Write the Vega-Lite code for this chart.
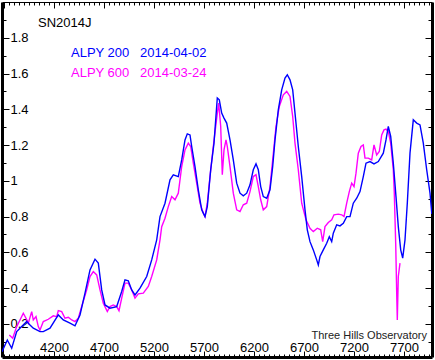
{
  "$schema": "https://vega.github.io/schema/vega-lite/v6.json",
  "width": 430,
  "height": 355,
  "autosize": {"type": "none"},
  "padding": {"left": 2, "top": 2, "right": 3, "bottom": 3},
  "background": "white",
  "config": {
    "view": {"stroke": null},
    "axis": {"grid": false, "title": null, "domainColor": "black", "tickColor": "black", "labelColor": "black", "labelFont": "Liberation Sans", "labelFontSize": 13, "labelFlush": false, "labelOverlap": false, "tickWidth": 1}
  },
  "datasets": {
    "blue": [
      {"wl":3680,"f":0.045},{"wl":3733,"f":0.110},{"wl":3777,"f":0.064},{"wl":3827,"f":0.157},{"wl":3877,"f":0.185},{"wl":3927,"f":0.213},{"wl":3960,"f":0.194},{"wl":3993,"f":0.176},{"wl":4060,"f":0.157},{"wl":4093,"f":0.157},{"wl":4160,"f":0.176},{"wl":4243,"f":0.250},{"wl":4293,"f":0.222},{"wl":4360,"f":0.204},{"wl":4410,"f":0.189},{"wl":4460,"f":0.250},{"wl":4510,"f":0.372},{"wl":4560,"f":0.502},{"wl":4610,"f":0.562},{"wl":4643,"f":0.540},{"wl":4677,"f":0.390},{"wl":4710,"f":0.306},{"wl":4760,"f":0.288},{"wl":4827,"f":0.297},{"wl":4877,"f":0.381},{"wl":4910,"f":0.446},{"wl":4943,"f":0.441},{"wl":4977,"f":0.390},{"wl":5010,"f":0.362},{"wl":5060,"f":0.400},{"wl":5127,"f":0.465},{"wl":5177,"f":0.558},{"wl":5227,"f":0.670},{"wl":5260,"f":0.800},{"wl":5310,"f":0.875},{"wl":5360,"f":1.006},{"wl":5393,"f":1.034},{"wl":5443,"f":1.024},{"wl":5477,"f":1.117},{"wl":5510,"f":1.229},{"wl":5533,"f":1.263},{"wl":5560,"f":1.257},{"wl":5577,"f":1.192},{"wl":5610,"f":1.080},{"wl":5643,"f":0.950},{"wl":5677,"f":0.838},{"wl":5710,"f":0.800},{"wl":5733,"f":0.856},{"wl":5767,"f":1.062},{"wl":5800,"f":1.211},{"wl":5833,"f":1.463},{"wl":5853,"f":1.453},{"wl":5877,"f":1.379},{"wl":5900,"f":1.351},{"wl":5927,"f":1.323},{"wl":5960,"f":1.229},{"wl":5993,"f":1.117},{"wl":6027,"f":0.987},{"wl":6060,"f":0.931},{"wl":6093,"f":0.916},{"wl":6127,"f":0.931},{"wl":6160,"f":0.978},{"wl":6193,"f":1.062},{"wl":6220,"f":1.095},{"wl":6243,"f":1.062},{"wl":6267,"f":0.968},{"wl":6293,"f":0.912},{"wl":6327,"f":0.903},{"wl":6360,"f":0.950},{"wl":6387,"f":1.080},{"wl":6410,"f":1.229},{"wl":6443,"f":1.397},{"wl":6477,"f":1.509},{"wl":6510,"f":1.575},{"wl":6533,"f":1.593},{"wl":6560,"f":1.565},{"wl":6587,"f":1.509},{"wl":6610,"f":1.379},{"wl":6643,"f":1.192},{"wl":6677,"f":1.024},{"wl":6710,"f":0.838},{"wl":6733,"f":0.726},{"wl":6760,"f":0.660},{"wl":6793,"f":0.614},{"wl":6827,"f":0.558},{"wl":6843,"f":0.530},{"wl":6860,"f":0.577},{"wl":6893,"f":0.614},{"wl":6927,"f":0.651},{"wl":6953,"f":0.688},{"wl":6977,"f":0.660},{"wl":6993,"f":0.707},{"wl":7027,"f":0.754},{"wl":7060,"f":0.748},{"wl":7093,"f":0.763},{"wl":7127,"f":0.800},{"wl":7160,"f":0.800},{"wl":7193,"f":0.875},{"wl":7227,"f":0.903},{"wl":7260,"f":0.940},{"wl":7293,"f":1.024},{"wl":7320,"f":1.099},{"wl":7360,"f":1.108},{"wl":7400,"f":1.095},{"wl":7443,"f":1.108},{"wl":7493,"f":1.155},{"wl":7520,"f":1.229},{"wl":7543,"f":1.304},{"wl":7567,"f":1.248},{"wl":7593,"f":1.099},{"wl":7620,"f":0.912},{"wl":7643,"f":0.744},{"wl":7667,"f":0.614},{"wl":7687,"f":0.568},{"wl":7710,"f":0.670},{"wl":7733,"f":0.875},{"wl":7760,"f":1.155},{"wl":7793,"f":1.341},{"wl":7827,"f":1.323},{"wl":7860,"f":1.313},{"wl":7893,"f":1.211},{"wl":7927,"f":1.062},{"wl":7960,"f":0.931},{"wl":7978,"f":0.815}
    ],
    "magenta": [
      {"wl":3753,"f":0.138},{"wl":3787,"f":0.120},{"wl":3827,"f":0.185},{"wl":3860,"f":0.222},{"wl":3893,"f":0.260},{"wl":3920,"f":0.232},{"wl":3943,"f":0.204},{"wl":3977,"f":0.269},{"wl":3993,"f":0.222},{"wl":4020,"f":0.241},{"wl":4043,"f":0.185},{"wl":4060,"f":0.166},{"wl":4093,"f":0.213},{"wl":4143,"f":0.226},{"wl":4193,"f":0.245},{"wl":4227,"f":0.241},{"wl":4243,"f":0.274},{"wl":4277,"f":0.269},{"wl":4310,"f":0.232},{"wl":4343,"f":0.237},{"wl":4377,"f":0.222},{"wl":4410,"f":0.213},{"wl":4443,"f":0.232},{"wl":4477,"f":0.297},{"wl":4527,"f":0.390},{"wl":4560,"f":0.465},{"wl":4593,"f":0.493},{"wl":4627,"f":0.474},{"wl":4660,"f":0.390},{"wl":4693,"f":0.316},{"wl":4733,"f":0.269},{"wl":4760,"f":0.297},{"wl":4793,"f":0.306},{"wl":4827,"f":0.297},{"wl":4850,"f":0.274},{"wl":4877,"f":0.344},{"wl":4910,"f":0.428},{"wl":4943,"f":0.428},{"wl":4977,"f":0.390},{"wl":5010,"f":0.344},{"wl":5043,"f":0.368},{"wl":5093,"f":0.372},{"wl":5143,"f":0.409},{"wl":5177,"f":0.465},{"wl":5227,"f":0.558},{"wl":5260,"f":0.670},{"wl":5277,"f":0.744},{"wl":5310,"f":0.791},{"wl":5343,"f":0.856},{"wl":5377,"f":0.912},{"wl":5410,"f":0.894},{"wl":5443,"f":0.931},{"wl":5477,"f":1.080},{"wl":5510,"f":1.173},{"wl":5543,"f":1.211},{"wl":5567,"f":1.192},{"wl":5593,"f":1.099},{"wl":5627,"f":0.987},{"wl":5660,"f":0.875},{"wl":5693,"f":0.819},{"wl":5710,"f":0.800},{"wl":5733,"f":0.875},{"wl":5760,"f":1.024},{"wl":5793,"f":1.192},{"wl":5827,"f":1.351},{"wl":5847,"f":1.435},{"wl":5867,"f":1.304},{"wl":5883,"f":1.034},{"wl":5900,"f":1.173},{"wl":5920,"f":1.229},{"wl":5933,"f":1.192},{"wl":5960,"f":1.080},{"wl":5993,"f":0.931},{"wl":6027,"f":0.838},{"wl":6060,"f":0.828},{"wl":6093,"f":0.866},{"wl":6127,"f":0.875},{"wl":6160,"f":0.940},{"wl":6193,"f":1.024},{"wl":6220,"f":1.034},{"wl":6243,"f":0.968},{"wl":6267,"f":0.894},{"wl":6293,"f":0.838},{"wl":6327,"f":0.856},{"wl":6360,"f":0.968},{"wl":6387,"f":1.117},{"wl":6420,"f":1.304},{"wl":6453,"f":1.416},{"wl":6493,"f":1.481},{"wl":6527,"f":1.500},{"wl":6560,"f":1.472},{"wl":6587,"f":1.360},{"wl":6610,"f":1.211},{"wl":6643,"f":1.062},{"wl":6677,"f":0.875},{"wl":6720,"f":0.782},{"wl":6760,"f":0.735},{"wl":6793,"f":0.716},{"wl":6833,"f":0.735},{"wl":6867,"f":0.726},{"wl":6887,"f":0.660},{"wl":6910,"f":0.744},{"wl":6943,"f":0.767},{"wl":6977,"f":0.782},{"wl":7000,"f":0.810},{"wl":7043,"f":0.814},{"wl":7077,"f":0.810},{"wl":7100,"f":0.800},{"wl":7127,"f":0.875},{"wl":7153,"f":0.940},{"wl":7177,"f":0.987},{"wl":7200,"f":0.968},{"wl":7220,"f":1.043},{"wl":7243,"f":1.155},{"wl":7270,"f":1.192},{"wl":7293,"f":1.201},{"wl":7310,"f":1.127},{"wl":7343,"f":1.127},{"wl":7377,"f":1.117},{"wl":7400,"f":1.201},{"wl":7427,"f":1.145},{"wl":7453,"f":1.164},{"wl":7477,"f":1.257},{"wl":7500,"f":1.285},{"wl":7520,"f":1.289},{"wl":7543,"f":1.276},{"wl":7567,"f":1.211},{"wl":7593,"f":1.062},{"wl":7603,"f":0.931},{"wl":7617,"f":0.651},{"wl":7627,"f":0.372},{"wl":7633,"f":0.222},{"wl":7643,"f":0.465},{"wl":7660,"f":0.540}
    ]
  },
  "resolve": {"axis": {"x": "independent", "y": "independent"}},
  "layer": [
    {
      "data": {"name": "magenta"},
      "mark": {"type": "line", "color": "#ff00ff", "strokeWidth": 1.4, "clip": true},
      "encoding": {
        "x": {"field": "wl", "type": "quantitative", "scale": {"domain": [3680, 7980], "nice": false, "zero": false},
          "axis": {"orient": "bottom", "values": [4200, 4700, 5200, 5700, 6200, 6700, 7200, 7700], "format": "d", "tickSize": -6, "labelPadding": 0, "labelBaseline": "alphabetic", "domainWidth": 3}},
        "y": {"field": "f", "type": "quantitative", "scale": {"domain": [0.015, 2], "nice": false, "zero": false},
          "axis": {"orient": "left", "values": [0.2, 0.4, 0.6, 0.8, 1, 1.2, 1.4, 1.6, 1.8], "format": "~g", "tickSize": -7, "labelPadding": -1, "labelAlign": "left", "labelBaseline": "middle", "domainWidth": 3}}
      }
    },
    {
      "data": {"name": "blue"},
      "mark": {"type": "line", "color": "#0000ff", "strokeWidth": 1.4, "clip": true},
      "encoding": {
        "x": {"field": "wl", "type": "quantitative",
          "axis": {"orient": "bottom", "values": [3700,3750,3800,3850,3900,3950,4000,4050,4100,4150,4200,4250,4300,4350,4400,4450,4500,4550,4600,4650,4700,4750,4800,4850,4900,4950,5000,5050,5100,5150,5200,5250,5300,5350,5400,5450,5500,5550,5600,5650,5700,5750,5800,5850,5900,5950,6000,6050,6100,6150,6200,6250,6300,6350,6400,6450,6500,6550,6600,6650,6700,6750,6800,6850,6900,6950,7000,7050,7100,7150,7200,7250,7300,7350,7400,7450,7500,7550,7600,7650,7700,7750,7800,7850,7900,7950], "tickSize": -3, "labels": false, "domain": false}},
        "y": {"field": "f", "type": "quantitative",
          "axis": {"orient": "left", "values": [0.1,0.2,0.3,0.4,0.5,0.6,0.7,0.8,0.9,1,1.1,1.2,1.3,1.4,1.5,1.6,1.7,1.8,1.9], "tickSize": -4, "labels": false, "domain": false}}
      }
    },
    {
      "data": {"values": [{}]},
      "mark": {"type": "text", "text": "SN2014J", "font": "Liberation Sans", "fontSize": 13, "align": "left", "baseline": "alphabetic", "color": "black"},
      "encoding": {
        "x": {"datum": 4040, "type": "quantitative",
          "axis": {"orient": "top", "values": [3700, 4200, 4700, 5200, 5700, 6200, 6700, 7200, 7700], "tickSize": -6, "labels": false, "domainWidth": 1}},
        "y": {"datum": 1.862, "type": "quantitative",
          "axis": {"orient": "right", "values": [0.2, 0.4, 0.6, 0.8, 1, 1.2, 1.4, 1.6, 1.8], "tickSize": -7, "labels": false, "domainWidth": 3}}
      }
    },
    {
      "data": {"values": [{}]},
      "mark": {"type": "text", "text": "ALPY 200", "font": "Liberation Sans", "fontSize": 13, "align": "left", "baseline": "alphabetic", "color": "#0000ff"},
      "encoding": {
        "x": {"datum": 4370, "type": "quantitative",
          "axis": {"orient": "top", "values": [3700,3750,3800,3850,3900,3950,4000,4050,4100,4150,4200,4250,4300,4350,4400,4450,4500,4550,4600,4650,4700,4750,4800,4850,4900,4950,5000,5050,5100,5150,5200,5250,5300,5350,5400,5450,5500,5550,5600,5650,5700,5750,5800,5850,5900,5950,6000,6050,6100,6150,6200,6250,6300,6350,6400,6450,6500,6550,6600,6650,6700,6750,6800,6850,6900,6950,7000,7050,7100,7150,7200,7250,7300,7350,7400,7450,7500,7550,7600,7650,7700,7750,7800,7850,7900,7950], "tickSize": -3, "labels": false, "domain": false}},
        "y": {"datum": 1.694, "type": "quantitative",
          "axis": {"orient": "right", "values": [0.1,0.2,0.3,0.4,0.5,0.6,0.7,0.8,0.9,1,1.1,1.2,1.3,1.4,1.5,1.6,1.7,1.8,1.9], "tickSize": -4, "labels": false, "domain": false}}
      }
    },
    {
      "data": {"values": [{}]},
      "mark": {"type": "text", "text": "2014-04-02", "font": "Liberation Sans", "fontSize": 13, "align": "left", "baseline": "alphabetic", "color": "#0000ff"},
      "encoding": {
        "x": {"datum": 5060, "type": "quantitative", "axis": null},
        "y": {"datum": 1.694, "type": "quantitative", "axis": null}
      }
    },
    {
      "data": {"values": [{}]},
      "mark": {"type": "text", "text": "ALPY 600", "font": "Liberation Sans", "fontSize": 13, "align": "left", "baseline": "alphabetic", "color": "#ff00ff"},
      "encoding": {
        "x": {"datum": 4370, "type": "quantitative", "axis": null},
        "y": {"datum": 1.582, "type": "quantitative", "axis": null}
      }
    },
    {
      "data": {"values": [{}]},
      "mark": {"type": "text", "text": "2014-03-24", "font": "Liberation Sans", "fontSize": 13, "align": "left", "baseline": "alphabetic", "color": "#ff00ff"},
      "encoding": {
        "x": {"datum": 5060, "type": "quantitative", "axis": null},
        "y": {"datum": 1.582, "type": "quantitative", "axis": null}
      }
    },
    {
      "data": {"values": [{}]},
      "mark": {"type": "text", "text": "Three Hills Observatory", "font": "Liberation Sans", "fontSize": 11, "align": "right", "baseline": "alphabetic", "color": "#222222"},
      "encoding": {
        "x": {"datum": 7930, "type": "quantitative", "axis": null},
        "y": {"datum": 0.116, "type": "quantitative", "axis": null}
      }
    }
  ]
}
